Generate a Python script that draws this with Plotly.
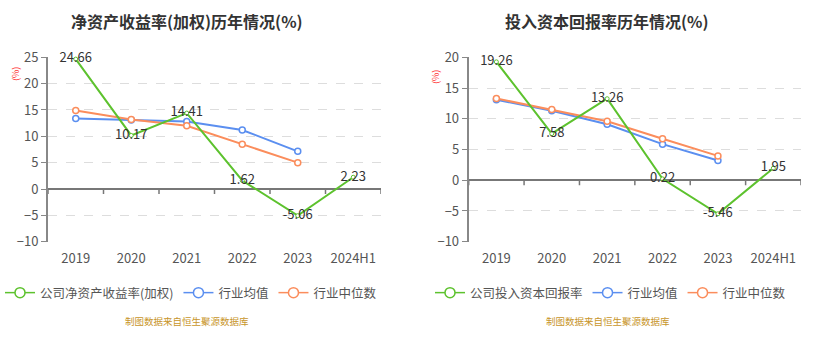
import plotly.graph_objects as go

categories = ["2019", "2020", "2021", "2022", "2023", "2024H1"]

# Left chart: ROE (weighted)
roe_company = [24.66, 10.17, 14.41, 1.62, -5.06, 2.23]
roe_ind_mean = [13.4, 13.1, 12.8, 11.2, 7.15, None]
roe_ind_median = [14.9, 13.2, 12.0, 8.5, 5.0, None]

# Right chart: ROIC
roic_company = [19.26, 7.58, 13.26, 0.22, -5.46, 1.95]
roic_ind_mean = [13.1, 11.3, 9.1, 5.87, 3.2, None]
roic_ind_median = [13.3, 11.5, 9.6, 6.74, 3.96, None]

left_title = "净资产收益率(加权)历年情况(%)"
right_title = "投入资本回报率历年情况(%)"
left_names = ["公司净资产收益率(加权)", "行业均值", "行业中位数"]
right_names = ["公司投入资本回报率", "行业均值", "行业中位数"]
source_text = "制图数据来自恒生聚源数据库"

GREEN = "#5dc22e"
BLUE = "#5b8ff0"
ORANGE = "#fb8d5c"
FONT = "Noto Sans CJK SC"
W, H = 832, 345

fig = go.Figure()


def add_panel(xa, ya, leg, company, mean, median, names):
    for vals, color, msize in ((mean, BLUE, 6), (median, ORANGE, 6)):
        fig.add_trace(go.Scatter(
            x=categories, y=vals, mode="lines+markers", showlegend=False,
            line=dict(color=color, width=2),
            marker=dict(symbol="circle", size=msize, color="white", line=dict(color=color, width=1.5)),
            xaxis=xa, yaxis=ya, hoverinfo="skip"))
    fig.add_trace(go.Scatter(
        x=categories, y=company, mode="lines+markers+text", showlegend=False,
        line=dict(color=GREEN, width=2),
        marker=dict(symbol="circle", size=4, color="white", line=dict(color=GREEN, width=1)),
        text=[f"{v:.2f}" for v in company], textposition="middle center",
        textfont=dict(size=13, color="#333", family=FONT),
        xaxis=xa, yaxis=ya, cliponaxis=False, hoverinfo="skip"))
    # legend entries
    for name, color in zip(names, (GREEN, BLUE, ORANGE)):
        fig.add_trace(go.Scatter(
            x=[None], y=[None], name=name, mode="lines+markers", legend=leg,
            line=dict(color=color, width=1.5),
            marker=dict(symbol="circle", size=10, color="white", line=dict(color=color, width=1.5)),
            xaxis=xa, yaxis=ya))


add_panel("x", "y", "legend", roe_company, roe_ind_mean, roe_ind_median, left_names)
add_panel("x2", "y2", "legend2", roic_company, roic_ind_mean, roic_ind_median, right_names)

ydom = [1 - 241.7 / H, 1 - 57.3 / H]

xaxis_common = dict(
    type="category", range=[-0.5, len(categories) - 0.5], showgrid=False, zeroline=False,
    showline=False, ticks="outside", ticklen=5, tickcolor="rgba(0,0,0,0)", automargin=False,
    tickfont=dict(size=13, color="#555", family=FONT), fixedrange=True)
yaxis_common = dict(
    dtick=5, showgrid=True, gridcolor="#dddddd", griddash="dash", gridwidth=1,
    zeroline=True, zerolinecolor="#777", zerolinewidth=1.5, automargin=False,
    showline=True, linecolor="#888", linewidth=2, ticks="outside", ticklen=5, tickcolor="#888",
    tickfont=dict(size=13, color="#555", family=FONT), fixedrange=True)

legend_common = dict(orientation="h", xanchor="left", yanchor="middle",
                     font=dict(size=12.5, color="#555", family=FONT), itemwidth=30,
                     bgcolor="rgba(0,0,0,0)", tracegroupgap=0)

fig.update_layout(
    width=W, height=H, margin=dict(l=0, r=0, t=0, b=0, autoexpand=False),
    paper_bgcolor="white", plot_bgcolor="white",
    font=dict(family=FONT),
    xaxis=dict(domain=[48 / W, 381 / W], anchor="y", **xaxis_common),
    xaxis2=dict(domain=[468.7 / W, 801 / W], anchor="y2", **xaxis_common),
    yaxis=dict(domain=ydom, range=[-10, 25], anchor="x", **yaxis_common),
    yaxis2=dict(domain=ydom, range=[-10, 20], anchor="x2", **yaxis_common),
    legend=dict(x=0 / W, y=1 - 293 / H, **legend_common),
    legend2=dict(x=(416 + 14) / W, y=1 - 293 / H, **legend_common),
    showlegend=True,
)

# boundary tick marks on the zero line
shapes = []
for xa, ya, ylen in (("x", "y", 0.95), ("x2", "y2", 0.82)):
    for i in range(len(categories) + 1):
        shapes.append(dict(type="line", xref=xa, yref=ya, x0=i - 0.5, x1=i - 0.5, y0=0, y1=-ylen,
                           line=dict(color="#777", width=1.5)))
fig.update_layout(shapes=shapes)

ann = []
for cx, title in ((187, left_title), (607, right_title)):
    ann.append(dict(text=f"<b>{title}</b>", x=cx / W, y=1 - 21 / H, xref="paper", yref="paper",
                    xanchor="center", yanchor="middle",
                    showarrow=False, font=dict(size=16, color="#333", family=FONT)))
for cx, cy in ((15, 74), (436, 77)):
    ann.append(dict(text="(%)", x=cx / W, y=1 - cy / H, xref="paper", yref="paper", textangle=-90,
                    xanchor="center", yanchor="middle",
                    showarrow=False, font=dict(size=9, color="#ff3333", family=FONT)))
for cx in (187, 608):
    ann.append(dict(text=source_text, x=cx / W, y=1 - 321 / H, xref="paper", yref="paper",
                    xanchor="center", yanchor="middle",
                    showarrow=False, font=dict(size=9.5, color="#c8952a", family=FONT)))
fig.update_layout(annotations=ann)

fig.write_html("out.html")
